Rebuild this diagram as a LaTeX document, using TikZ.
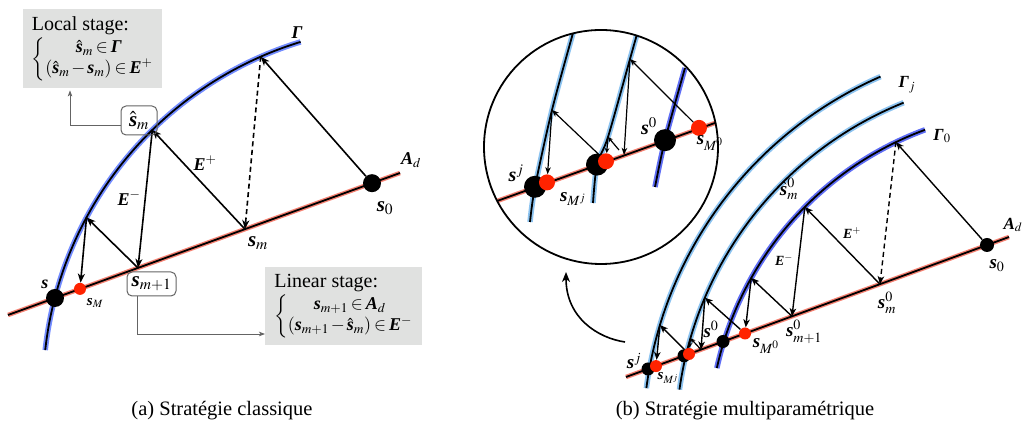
\documentclass[tikz,border=0pt]{standalone}
\usepackage{amsmath}
\usepackage{mathptmx}
\usepackage{fontspec}
\setmainfont{Liberation Serif}
\usetikzlibrary{arrows.meta,calc}
\definecolor{lblue}{RGB}{115,140,255}
\definecolor{dblue}{RGB}{95,110,245}
\definecolor{sky}{RGB}{140,195,240}
\definecolor{salmon}{RGB}{245,130,115}
\definecolor{dotred}{RGB}{255,35,0}
\definecolor{boxgray}{RGB}{224,225,224}
\definecolor{conngray}{RGB}{100,100,100}
\newcommand\bsy{\textbf{\textit{s}}}
\newcommand\bG{\textbf{\textit{Γ}}}
\newcommand\bE{\textbf{\textit{E}}}
\newcommand\bA{\textbf{\textit{A}}}
\newcommand\tightmath{\medmuskip=2mu\thickmuskip=3mu}
\tikzset{
  under/.style={line width=5.5pt},
  underl/.style={line width=4.5pt, salmon},
  curve/.style={line width=1.8pt, black},
  arr/.style={line width=1.6pt, -{Stealth[length=9pt,width=7pt,inset=2.5pt]}},
  arrR/.style={line width=1.4pt, -{Stealth[length=8pt,width=6.5pt,inset=2.2pt]}},
  arrS/.style={line width=1.2pt, -{Stealth[length=5pt,width=4.5pt,inset=1.5pt]}},
  arrI/.style={line width=1.2pt, -{Stealth[length=7pt,width=5.5pt,inset=2pt]}},
  arrC/.style={line width=1.6pt, -{Stealth[length=10pt,width=8pt,inset=3pt]}},
  conn/.style={line width=0.9pt, conngray, -{Stealth[length=6pt,width=4.5pt,inset=1.5pt]}},
  bdot/.style={circle, fill=black, inner sep=0pt, minimum size=#1},
  rdot/.style={circle, fill=dotred, inner sep=0pt, minimum size=#1},
  rbox/.style={draw=conngray, line width=1pt, rounded corners=5pt, inner sep=2pt},
  gbox/.style={fill=boxgray, inner sep=0pt},
  lblS/.style={inner sep=0pt, font=\fontsize{21}{24}\selectfont},
  lblL/.style={inner sep=0pt, font=\fontsize{18}{21}\selectfont},
  lblR/.style={inner sep=0pt, font=\fontsize{19}{22}\selectfont},
  lblRs/.style={inner sep=0pt, font=\fontsize{15}{18}\selectfont},
  lblG/.style={inner sep=0pt, font=\fontsize{17}{20}\selectfont},
  lblE/.style={inner sep=0pt, font=\fontsize{14}{17}\selectfont},
  lblI/.style={inner sep=0pt, font=\fontsize{20}{23}\selectfont},
  capt/.style={inner sep=0pt, font=\fontsize{20.5}{24}\selectfont},
}
\begin{document}
\begin{tikzpicture}[x=1pt,y=1pt]
\useasboundingbox (0,0) rectangle (1025,430);

%%%%%%%%%%%%%%%% (a) %%%%%%%%%%%%%%%%
\coordinate (CL) at (407,40);
\draw[under, lblue] ([shift={(CL)}]173.7:364) arc[start angle=173.7, end angle=107, radius=364];
\draw[curve] ([shift={(CL)}]173.7:364) arc[start angle=173.7, end angle=107, radius=364];
\coordinate (LA) at (8,115);
\coordinate (LB) at (400,257);
\draw[underl] (LA) -- (LB);
\draw[curve] (LA) -- (LB);

\coordinate (G1) at ([shift={(CL)}]113.7:364);
\coordinate (Ghat) at ([shift={(CL)}]134.4:364);
\coordinate (G3) at ([shift={(CL)}]151.7:364);
\coordinate (Sm) at (245,200.8);
\coordinate (Sm1) at (138,162.1);

\node[bdot=18pt] (s) at (55,132) {};
\node[rdot=12pt] (sM) at (80,141.1) {};
\node[bdot=18pt] (s0) at (372,246.8) {};

\draw[arr] (s0) -- (G1);
\draw[arr, dash pattern=on 5pt off 3.5pt] (G1) -- (Sm);
\draw[arr] (Sm) -- (Ghat);
\draw[arr] (Ghat) -- (Sm1);
\draw[arr] (Sm1) -- (G3);
\draw[arr] (G3) -- (sM);

\node[lblL] (lGam) at (297,397) {$\bG$};
\node[lblL] (lAd) at (411,270) {$\bA_d$};
\node[lblS] (ls0) at (385,222) {$\bsy_0$};
\node[lblS] (lsm) at (258,187) {$\bsy_m$};
\node[lblL] (ls) at (45,146) {$\bsy$};
\node[lblRs] (lsM) at (95,127) {$\bsy_M$};
\node[lblL] (lEp) at (205,267) {$\bE^{+}$};
\node[lblL] (lEm) at (129,232) {$\bE^{-}$};

\node[rbox, lblS, minimum width=36pt, minimum height=29pt] (hatbox) at (139,309.5) {$\hat{\bsy}_m$};
\node[rbox, lblS, minimum width=49pt, minimum height=24pt] (sm1box) at (151.5,146) {$\bsy_{m+1}$};

\node[gbox, anchor=north west, minimum width=139pt, minimum height=79pt] (localbox) at (23,421)
  {\begin{tabular}{@{}l@{}}{\fontsize{20}{22}\selectfont Local stage:}\\[3pt]
   {\fontsize{18}{21}\selectfont\tightmath$\left\{\begin{array}{@{}c@{}}\hat{\bsy}_m\in\bG\\(\hat{\bsy}_m-\bsy_m)\in\bE^{+}\end{array}\right.$}\end{tabular}};
\node[gbox, anchor=north west, minimum width=157pt, minimum height=78pt] (linbox) at (265,163)
  {\begin{tabular}{@{}l@{}}{\fontsize{20}{22}\selectfont Linear stage:}\\[3pt]
   {\fontsize{18}{21}\selectfont\tightmath$\left\{\begin{array}{@{}c@{}}\bsy_{m+1}\in\bA_d\\(\bsy_{m+1}-\hat{\bsy}_m)\in\bE^{-}\end{array}\right.$}\end{tabular}};

\coordinate (c1) at (70,305);
\draw[conn] (hatbox.west |- c1) -- (c1) -- ([yshift=-2pt]c1 |- localbox.south);
\coordinate (c2) at (137,96);
\draw[conn] (sm1box.south -| c2) -- (c2) -- (c2 -| linbox.west);

%%%%%%%%%%%%%%%% (b) %%%%%%%%%%%%%%%%
\coordinate (CR) at (1039,-9.5);
\draw[under, sky] ([shift={(CR)}]172.55:396) arc[start angle=172.55, end angle=113.6, radius=396];
\draw[curve] ([shift={(CR)}]172.55:396) arc[start angle=172.55, end angle=113.6, radius=396];
\draw[under, sky] ([shift={(CR)}]172.1:363) arc[start angle=172.1, end angle=111.9, radius=363];
\draw[curve] ([shift={(CR)}]172.1:363) arc[start angle=172.1, end angle=111.9, radius=363];
\draw[under, dblue] ([shift={(CR)}]167.5:330) arc[start angle=167.5, end angle=110.2, radius=330];
\draw[curve] ([shift={(CR)}]167.5:330) arc[start angle=167.5, end angle=110.2, radius=330];
\coordinate (RA) at (626,53);
\coordinate (RB) at (1009,193);
\draw[underl] (RA) -- (RB);
\draw[curve] (RA) -- (RB);

\coordinate (R0a) at ([shift={(CR)}]115.7:330);
\coordinate (Rhat) at ([shift={(CR)}]135.2:330);
\coordinate (R0c) at ([shift={(CR)}]150.7:330);
\coordinate (M1) at ([shift={(CR)}]157:363);
\coordinate (M2) at ([shift={(CR)}]163.8:363);
\coordinate (O1) at ([shift={(CR)}]163.2:396);
\coordinate (Rsm) at (880,145.8);
\coordinate (Rsm1) at (792,113.7);
\coordinate (RL1) at (701,80.4);

\node[bdot=14pt] (Rs0) at (987,185) {};
\node[bdot=13pt] (Rsz) at (723,88.5) {};
\node[rdot=12pt] (RsM0) at (745,96.5) {};
\node[bdot=13pt] (Rmidb) at (684,74.2) {};
\node[rdot=12pt] (Rmidr) at (689,76.0) {};
\node[bdot=13pt] (Rsj) at (648,61) {};
\node[rdot=12pt] (RsMj) at (656,63.9) {};

\draw[arrR] (Rs0) -- (R0a);
\draw[arrR, dash pattern=on 5pt off 3.5pt] (R0a) -- (Rsm);
\draw[arrR] (Rsm) -- (Rhat);
\draw[arrR] (Rhat) -- (Rsm1);
\draw[arrR] (Rsm1) -- (R0c);
\draw[arrR] (R0c) -- (RsM0);
\draw[arrR] (RsM0) -- (M1);
\draw[arrR] (M1) -- (RL1);
\draw[arrS] (RL1) -- (M2);
\draw[arrS] (M2) -- (Rmidr);
\draw[arrR] (Rmidr) -- (O1);
\draw[arrR] (O1) -- (RsMj);

\node[lblG] (lGj) at (907,345) {$\bG_j$};
\node[lblG] (lG0) at (942,294) {$\bG_0$};
\node[lblG] (lAdR) at (1013,205) {$\bA_d$};
\node[lblR] (lRs0) at (997,164) {$\bsy_0$};
\node[lblR] (lRsm) at (887,127) {$\bsy^0_m$};
\node[lblR] (lRhat) at (789,241) {$\hat{\bsy}^0_m$};
\node[lblE] (lREp) at (852,197) {$\bE^{+}$};
\node[lblE] (lREm) at (784,170) {$\bE^{-}$};
\node[lblR] (lRsm1) at (804,98) {$\bsy^0_{m+1}$};
\node[lblR] (lRsM0) at (766,84) {$\bsy_{M^0}$};
\node[lblR] (lRsz) at (711,101) {$\bsy^0$};
\node[lblR] (lRsj) at (634,69) {$\bsy^j$};
\node[lblRs] (lRsMj) at (668,52) {$\bsy_{M^j}$};

%%%%%%%%%%%%%%%% inset %%%%%%%%%%%%%%%%
\begin{scope}
\clip (601,283) circle[radius=117];
\draw[under, sky] plot[smooth] coordinates {(530,208) (535,243.2) (552,320) (573,397) (581,425)};
\draw[curve] plot[smooth] coordinates {(530,208) (535,243.2) (552,320) (573,397) (581,425)};
\draw[under, sky] plot[smooth] coordinates {(593,227) (597,265.4) (608,293) (630,371) (641,410)};
\draw[curve] plot[smooth] coordinates {(593,227) (597,265.4) (608,293) (630,371) (641,410)};
\draw[under, dblue] plot[smooth] coordinates {(655,243) (665,289.8) (685,362)};
\draw[curve] plot[smooth] coordinates {(655,243) (665,289.8) (685,362)};
\draw[underl] (470,219.3) -- (740,316);
\draw[curve] (470,219.3) -- (740,316);
\end{scope}
\node[circle, draw, line width=1.8pt, minimum size=234pt, inner sep=0pt] (inset) at (601,283) {};

\coordinate (IM1) at (630,371);
\coordinate (IL1) at (624,275.1);
\coordinate (IL2) at (619,280);
\coordinate (IM2) at (608,293);
\coordinate (IO1) at (552,320);

\node[bdot=22pt] (Ibj) at (535,243.2) {};
\node[rdot=16pt] (IrMj) at (547,247.6) {};
\node[bdot=22pt] (Ibmid) at (597,265.4) {};
\node[rdot=16pt] (Irmid) at (606,268.7) {};
\node[bdot=22pt] (Ibz) at (665,289.8) {};
\node[rdot=16pt] (IrM0) at (699,302.1) {};

\draw[arrI] (IrM0) -- (IM1);
\draw[arrI] (IM1) -- (IL1);
\draw[arrS] (IL2) -- (IM2);
\draw[arrS] (IM2) -- (Irmid);
\draw[arrI] (Irmid) -- (IO1);
\draw[arrI] (IO1) -- (IrMj);

\node[lblI] (lIsj) at (516,257) {$\bsy^j$};
\node[lblR] (lIsMj) at (573,231) {$\bsy_{M^j}$};
\node[lblI] (lIsz) at (649,304) {$\bsy^0$};
\node[lblR] (lIsM0) at (710,287) {$\bsy_{M^0}$};

\coordinate (ctail) at (625,88);
\coordinate (ctip) at (566,158);
\draw[arrC] (ctail) .. controls (598,92) and (566,112) .. (ctip);

%%%%%%%%%%%%%%%% captions %%%%%%%%%%%%%%%%
\node[capt] (capa) at (222,19) {(a) Stratégie classique};
\node[capt] (capb) at (745,19) {(b) Stratégie multiparamétrique};
\end{tikzpicture}
\end{document}
